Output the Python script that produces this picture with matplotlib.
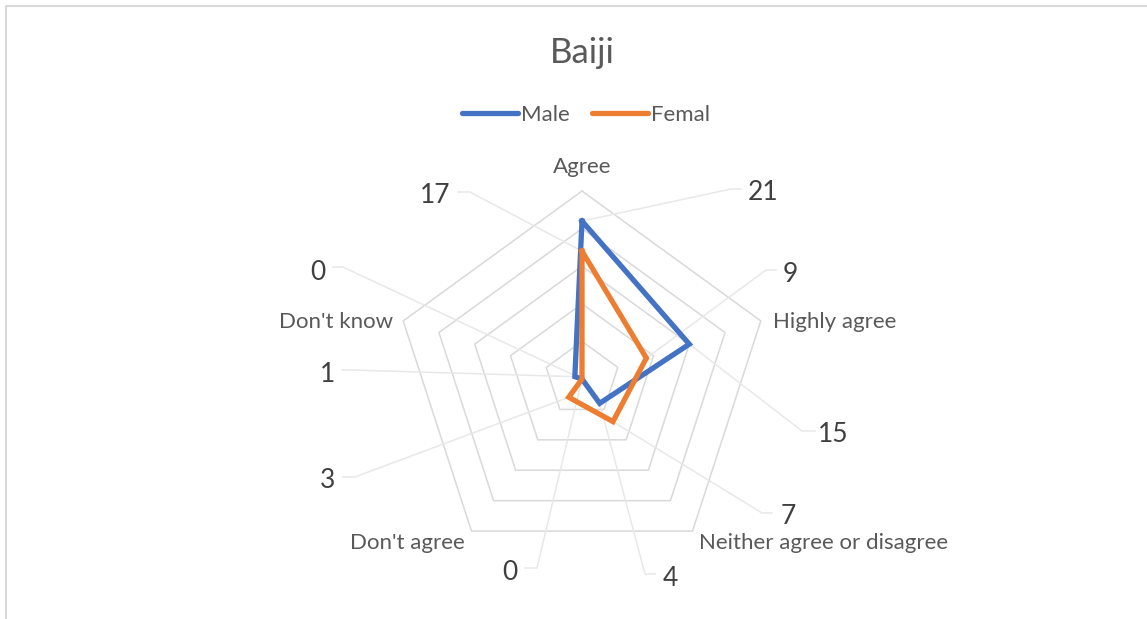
import numpy as np
import matplotlib.pyplot as plt
from matplotlib.lines import Line2D

# data
categories = ["Agree", "Highly agree", "Neither agree or disagree", "Don't agree", "Don't know"]
male = [21, 15, 4, 0, 1]
femal = [17, 9, 7, 3, 0]
rings = [5, 10, 15, 20, 25]

W, H = 1147, 619
cx, cy = 582, 379          # radar centre in pixels
scale = 188 / 25.0         # pixels per unit

plt.rcParams['font.family'] = ['Lato', 'DejaVu Sans']

fig = plt.figure(figsize=(W / 100, H / 100), dpi=100)
ax = fig.add_axes([0, 0, 1, 1])
ax.set_xlim(-cx / scale, (W - cx) / scale)
ax.set_ylim(-(H - cy) / scale, cy / scale)
ax.axis('off')

def px(x, y):
    # pixel position -> data coordinates
    return (x - cx) / scale, (cy - y) / scale

n = len(categories)
ang = np.arange(n) * 2 * np.pi / n

def xy(vals):
    v = np.asarray(vals, dtype=float)
    return v * np.sin(ang), v * np.cos(ang)

# chart frame (top and left only)
ax.plot(*zip(px(6, 619), px(6, 6), px(1147, 6)), color='#d9d9d9', lw=1.5, clip_on=False)

# grid
for r in rings:
    gx, gy = xy([r] * n)
    ax.plot(np.append(gx, gx[0]), np.append(gy, gy[0]), color='#d9d9d9', lw=1.1, zorder=1)

# leader lines and data labels: (series, index, label px pos, line start px, elbow px)
lab_pos = [
    (femal, 0, (435, 195), (458, 192), (470, 192)),
    (male, 0, (763, 192), (741, 189), (731, 189)),
    (femal, 4, (318, 272), (333, 267), (343, 267)),
    (femal, 1, (790, 274), (776, 270), (766, 270)),
    (male, 4, (328, 374), (342, 370), (352, 370)),
    (male, 1, (833, 434), (815, 431), (802, 431)),
    (femal, 3, (328, 480), (343, 477), (355, 477)),
    (femal, 2, (788, 517), (772, 513), (762, 513)),
    (male, 3, (510, 572), (525, 568), (537, 568)),
    (male, 2, (670, 578), (655, 574), (645, 574)),
]
for ser, i, tp, p0, p1 in lab_pos:
    sx, sy = xy(ser)
    a = px(*p0)
    b = px(*p1)
    ax.plot([a[0], b[0], sx[i]], [a[1], b[1], sy[i]], color='#e8e8e8', lw=1.1, zorder=2)
    ax.text(*px(*tp), str(ser[i]), ha='center', va='center', fontsize=19, color='#404040')

# series
for vals, col in [(male, '#4472c4'), (femal, '#ed7d31')]:
    sx, sy = xy(vals)
    ax.plot(np.append(sx, sx[0]), np.append(sy, sy[0]), color=col, lw=3.8,
            solid_joinstyle='miter', zorder=3)

# category labels
cat_pos = [((582, 167), 'center'), ((773, 322), 'left'), ((948, 543), 'right'),
           ((465, 543), 'right'), ((393, 322), 'right')]
for name, (p, ha) in zip(categories, cat_pos):
    ax.text(*px(*p), name, ha=ha, va='center', fontsize=16, color='#595959')

ax.text(*px(582, 53), "Baiji", ha='center', va='center', fontsize=25, color='#595959')

handles = [Line2D([], [], color='#4472c4', lw=3.8, solid_capstyle='round'),
           Line2D([], [], color='#ed7d31', lw=3.8, solid_capstyle='round')]
ax.legend(handles, ['Male', 'Femal'], loc='center', bbox_to_anchor=(586 / W, 1 - 115 / H),
          ncol=2, frameon=False, fontsize=16, handlelength=2.5, handletextpad=0.15,
          columnspacing=1.0, labelcolor='#595959')

fig.savefig('out.png', dpi=100)
